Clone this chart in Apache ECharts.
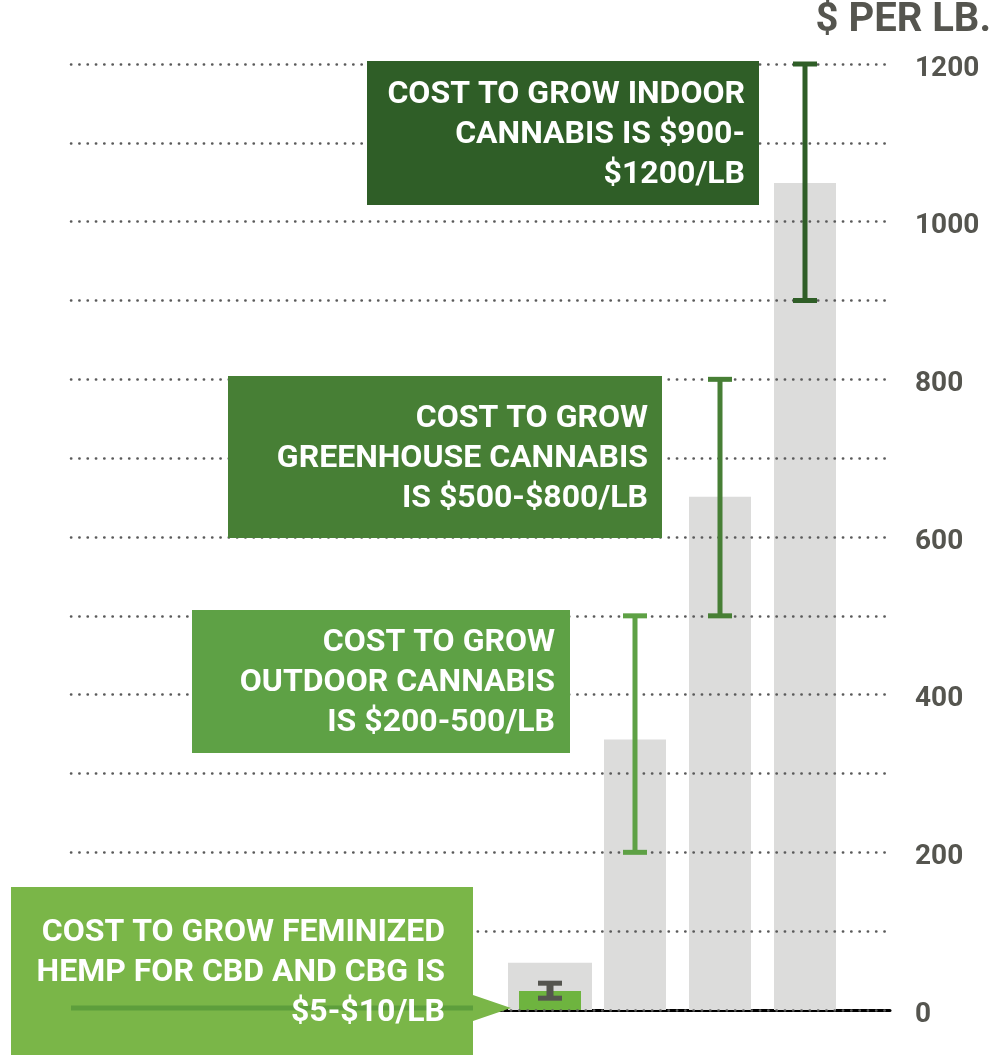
<!DOCTYPE html>
<html>
<head>
<meta charset="utf-8">
<script src="https://cdn.jsdelivr.net/npm/echarts@6/dist/echarts.min.js"></script>
<style>
  html, body { margin: 0; padding: 0; background: #fff; }
  #chart { width: 994px; height: 1058px; }
</style>
</head>
<body>
<div id="chart"></div>
<script>
// growing cost per pound
const categories = ['Feminized hemp', 'Outdoor', 'Greenhouse', 'Indoor'];
const greyBars = [60, 343, 651, 1049];
const hempBar = [24, '-', '-', '-'];
const rangeLow = [15, 200, 500, 900];
const rangeHigh = [34, 500, 800, 1200];
const rangeColors = ['#55554f', '#5ea145', '#477f35', '#2f5e27'];
const yMax = 1200;
const yStep = 100;
const yLabelStep = 200;

const FONT = 'Roboto, "Liberation Sans", sans-serif';
const GREY = '#55554f';

const chart = echarts.init(document.getElementById('chart'));

// annotation box: rect + right aligned white text
function noteBox(x, y, w, h, fill, lines, rightX, midY) {
  return [
    { type: 'rect', z: 10, shape: { x: x, y: y, width: w, height: h }, style: { fill: fill } },
    {
      type: 'text', x: rightX, y: midY, z: 13,
      style: {
        text: lines.join('\n'), fill: '#fff', font: 'bold 32px ' + FONT,
        align: 'right', verticalAlign: 'middle', lineHeight: 40
      }
    }
  ];
}

const option = {
  animation: false,
  grid: [
    { left: 71, right: 104, top: 64, bottom: 48 },
    { left: 507.5, right: 146.5, top: 64, bottom: 48 }
  ],
  xAxis: [
    {
      gridIndex: 0, type: 'value', min: 0, max: 1,
      axisLine: { show: true, onZero: false, lineStyle: { color: '#000', width: 3 } },
      axisTick: { show: false }, axisLabel: { show: false }, splitLine: { show: false }
    },
    { gridIndex: 1, type: 'category', data: categories, show: false },
    { gridIndex: 1, type: 'category', data: categories, show: false }
  ],
  yAxis: [
    {
      gridIndex: 0, type: 'value', position: 'right', min: 0, max: yMax, interval: yStep,
      z: 3,
      axisLine: { show: false }, axisTick: { show: false },
      axisLabel: {
        margin: 25,
        formatter: v => (v % yLabelStep === 0 ? '{n|' + v + '}' : ''),
        rich: {
          n: { color: GREY, fontFamily: FONT, fontWeight: 'bold', fontSize: 28, padding: [9, 0, 0, 0] }
        }
      },
      splitLine: { lineStyle: { color: '#5a5a5a', width: 2.5, type: [0.3, 8], cap: 'round' } }
    },
    { gridIndex: 1, type: 'value', min: 0, max: yMax, show: false }
  ],
  series: [
    {
      type: 'bar', xAxisIndex: 2, yAxisIndex: 1, z: 1, barWidth: 84,
      data: [greyBars[0], '-', '-', '-'],
      itemStyle: { color: '#dcdcdb' }
    },
    {
      type: 'bar', xAxisIndex: 1, yAxisIndex: 1, z: 1, barWidth: 62, barGap: '-100%',
      data: greyBars.map((v, i) => (i === 0 ? '-' : v)),
      itemStyle: { color: '#dcdcdb' }
    },
    {
      type: 'bar', xAxisIndex: 1, yAxisIndex: 1, z: 1, barWidth: 62, barGap: '-100%',
      data: hempBar,
      itemStyle: { color: '#6eb43f' }
    },
    {
      type: 'custom', xAxisIndex: 1, yAxisIndex: 1, z: 5,
      data: categories.map((c, i) => [i, rangeLow[i], rangeHigh[i]]),
      renderItem: function (params, api) {
        const i = api.value(0);
        const lo = api.coord([i, api.value(1)]);
        const hi = api.coord([i, api.value(2)]);
        const color = rangeColors[i];
        const stem = i === 0 ? 7 : 5;
        const capW = 24, capH = 5;
        const x = lo[0];
        return {
          type: 'group',
          children: [
            { type: 'rect', shape: { x: x - stem / 2, y: hi[1], width: stem, height: lo[1] - hi[1] }, style: { fill: color } },
            { type: 'rect', shape: { x: x - capW / 2, y: hi[1] - capH / 2, width: capW, height: capH }, style: { fill: color } },
            { type: 'rect', shape: { x: x - capW / 2, y: lo[1] - capH / 2, width: capW, height: capH }, style: { fill: color } }
          ]
        };
      }
    }
  ],
  graphic: [
    {
      type: 'text', right: 3, top: 1, z: 10,
      style: { text: '$ PER LB.', fill: GREY, font: 'bold 40px ' + FONT }
    },
    ...noteBox(367, 61, 392, 144, '#2f5e27',
      ['COST TO GROW INDOOR', 'CANNABIS IS $900-', '$1200/LB'], 745, 135),
    ...noteBox(228, 376, 434, 162, '#477f35',
      ['COST TO GROW', 'GREENHOUSE CANNABIS', 'IS $500-$800/LB'], 648, 459),
    ...noteBox(192, 610, 378, 143, '#5ea145',
      ['COST TO GROW', 'OUTDOOR CANNABIS', 'IS $200-500/LB'], 555, 683),
    ...noteBox(11, 887, 462, 168, '#7ab648',
      ['COST TO GROW FEMINIZED', 'HEMP FOR CBD AND CBG IS', '$5-$10/LB'], 445, 973),
    // arrow pointing at the hemp bar, shaft sits between box and text
    {
      type: 'line', z: 11,
      shape: { x1: 71, y1: 1008, x2: 480, y2: 1008 },
      style: { stroke: '#5d9e3c', lineWidth: 5 }
    },
    {
      type: 'polygon', z: 11,
      shape: { points: [[473, 995], [511, 1008], [473, 1021]] },
      style: { fill: '#7ab648' }
    }
  ]
};

chart.setOption(option);
window.addEventListener('resize', () => chart.resize());
</script>
</body>
</html>
